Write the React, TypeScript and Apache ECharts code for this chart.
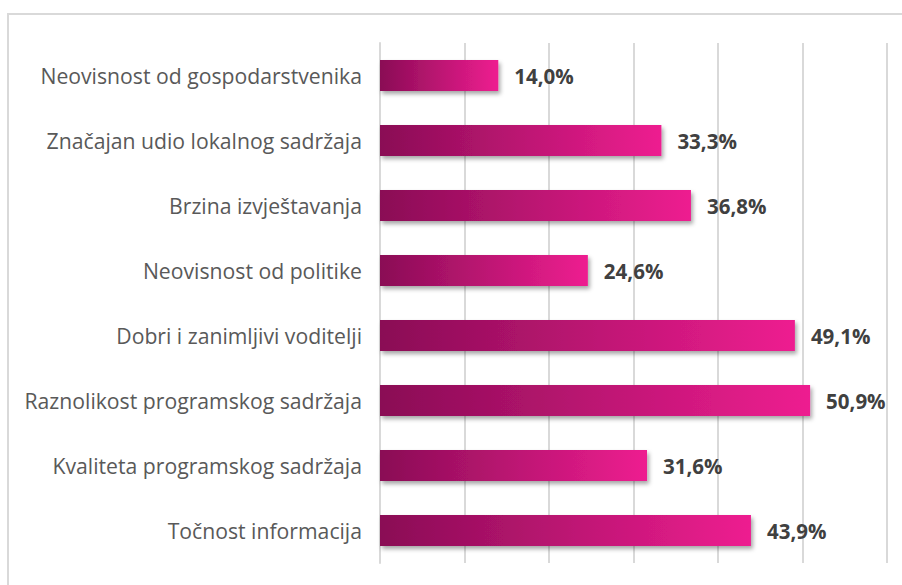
import React, { useEffect, useRef } from "react";
import * as echarts from "echarts";

const categories = [
  "Neovisnost od gospodarstvenika",
  "Značajan udio lokalnog sadržaja",
  "Brzina izvještavanja",
  "Neovisnost od politike",
  "Dobri i zanimljivi voditelji",
  "Raznolikost programskog sadržaja",
  "Kvaliteta programskog sadržaja",
  "Točnost informacija",
];
const values = [14.0, 33.3, 36.8, 24.6, 49.1, 50.9, 31.6, 43.9];
const axisMin = 0;
const axisMax = 60;
const axisInterval = 10;

export default function App() {
  const ref = useRef<HTMLDivElement>(null);
  useEffect(() => {
    if (!ref.current) return;
    const chart = echarts.init(ref.current, undefined, { renderer: "svg" });
    chart.setOption({
      animation: false,
      backgroundColor: "#ffffff",
      graphic: [
        {
          type: "rect",
          shape: { x: 8, y: 14, width: 1000, height: 1000 },
          style: { fill: "none", stroke: "#d9d9d9", lineWidth: 2 },
          silent: true,
        },
      ],
      grid: { left: 380, right: 15, top: 43, bottom: 22, containLabel: false },
      xAxis: {
        type: "value",
        min: axisMin,
        max: axisMax,
        interval: axisInterval,
        axisLabel: { show: false },
        axisLine: { show: false },
        axisTick: { show: false },
        splitLine: { show: true, lineStyle: { color: "#d9d9d9", width: 2 } },
      },
      yAxis: {
        type: "category",
        data: categories,
        inverse: true,
        axisLine: { show: true, lineStyle: { color: "#d9d9d9", width: 2 } },
        axisTick: { show: false },
        axisLabel: {
          margin: 18,
          color: "#595959",
          fontSize: 21.2,
          fontFamily: "Open Sans",
        },
      },
      series: [
        {
          type: "bar",
          data: values,
          barWidth: 31,
          itemStyle: {
            color: new echarts.graphic.LinearGradient(0, 0, 1, 0, [
              { offset: 0, color: "#8a0c55" },
              { offset: 1, color: "#ee1e90" },
            ]),
            shadowColor: "rgba(0,0,0,0.35)",
            shadowBlur: 4,
            shadowOffsetX: 2,
            shadowOffsetY: 3,
          },
          label: {
            show: true,
            position: "right",
            distance: 16,
            color: "#404040",
            fontSize: 20.5,
            fontWeight: "bold",
            fontFamily: "Open Sans",
            formatter: (p: any) => p.value.toFixed(1).replace(".", ",") + "%",
          },
        },
      ],
    });
    return () => chart.dispose();
  }, []);
  return (
    <div
      ref={ref}
      style={{ position: "absolute", left: 0, top: 0, width: 902, height: 585 }}
    />
  );
}
